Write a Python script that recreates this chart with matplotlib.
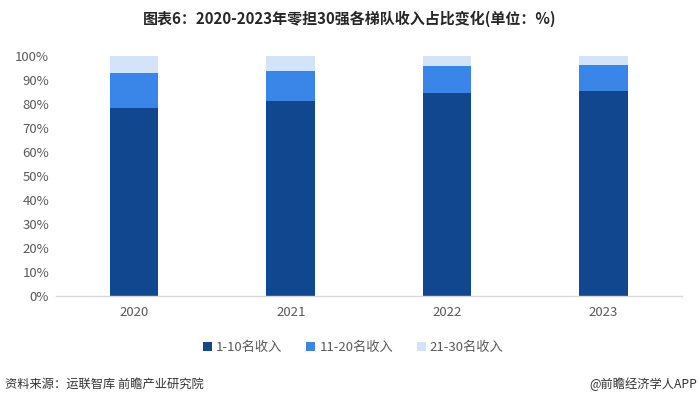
import matplotlib
matplotlib.use("Agg")
from matplotlib import pyplot as plt
import numpy as np

plt.rcParams['font.family'] = ['Noto Sans CJK SC', 'DejaVu Sans']

years = ['2020', '2021', '2022', '2023']
top10 = [78.2, 81.1, 84.7, 85.4]
top20 = [14.7, 12.6, 11.1, 10.7]
top30 = [7.1, 6.3, 4.2, 3.9]
series_names = ['1-10名收入', '11-20名收入', '21-30名收入']
colors = ['#10478E', '#3A86E8', '#D3E3F8']

fig = plt.figure(figsize=(7, 4.07), dpi=100)
ax = fig.add_axes([0.08, 0.2727, 0.894, 0.5897])

x = np.arange(len(years))
w = 0.31
b1 = np.array(top10)
b2 = b1 + np.array(top20)
ax.bar(x, top10, w, color=colors[0], label=series_names[0])
ax.bar(x, top20, w, bottom=b1, color=colors[1], label=series_names[1])
ax.bar(x, top30, w, bottom=b2, color=colors[2], label=series_names[2])

ax.set_xlim(-0.5, len(years) - 0.5)
ax.set_ylim(0, 100)
ax.set_yticks(np.arange(0, 101, 10))
ax.set_yticklabels([f'{v}%' for v in range(0, 101, 10)])
ax.set_xticks(x)
ax.set_xticklabels(years)
ax.tick_params(axis='both', length=0, labelsize=9.5, colors='#595959')
ax.tick_params(axis='x', pad=7)
ax.tick_params(axis='y', pad=5)
for s in ['top', 'right', 'left']:
    ax.spines[s].set_visible(False)
ax.spines['bottom'].set_color('#D9D9D9')
ax.spines['bottom'].set_linewidth(1)

ax.legend(loc='upper center', bbox_to_anchor=(0.475, -0.14), ncol=3, frameon=False,
          fontsize=9.5, labelcolor='#595959', handlelength=0.7, handleheight=0.7,
          handletextpad=0.3, columnspacing=1.8)

fig.text(0.5, 0.953, '图表6：2020-2023年零担30强各梯队收入占比变化(单位：%)',
         ha='center', va='center', fontsize=10.8, fontweight='bold', color='#262626')
fig.text(0.007, 0.056, '资料来源：运联智库 前瞻产业研究院', ha='left', va='center',
         fontsize=8.8, color='#333333')
fig.text(0.996, 0.056, '@前瞻经济学人APP', ha='right', va='center',
         fontsize=8.8, color='#333333')

fig.savefig('out.png', dpi=100)
